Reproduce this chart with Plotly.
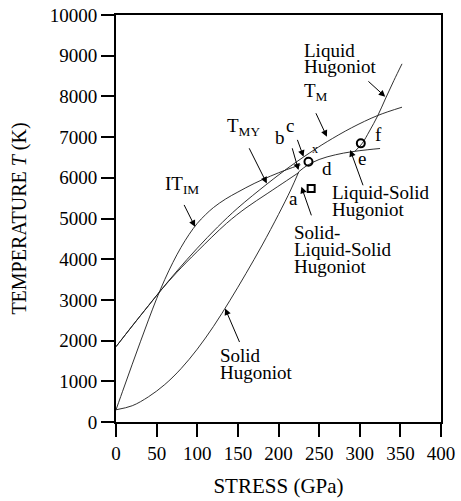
import plotly.graph_objects as go

# ---------------- data (stress in GPa, temperature in K) ----------------
it_im_x = [0, 10, 20, 30, 40, 50, 60, 70, 80, 90, 100, 110, 120, 135, 150, 170, 190, 210, 227]
it_im_T = [300, 860, 1420, 1970, 2510, 3030, 3500, 3920, 4290, 4610, 4880, 5090, 5270, 5480, 5650,
           5860, 6040, 6200, 6320]

tm_x = [0, 20, 40, 55, 75, 100, 125, 150, 186, 215, 245, 260, 290, 322, 352]
tm_T = [1850, 2360, 2860, 3230, 3710, 4270, 4790, 5260, 5850, 6290, 6700, 6890, 7230, 7530, 7735]

tmy_x = [0, 20, 40, 55, 75, 100, 136, 160, 186, 210, 225]
tmy_T = [1850, 2360, 2860, 3230, 3680, 4190, 4880, 5260, 5610, 5930, 6130]

solid_hug_x = [0, 20, 40, 60, 80, 100, 120, 140, 160, 180, 200, 215, 225]
solid_hug_T = [300, 400, 620, 920, 1310, 1790, 2350, 2980, 3650, 4350, 5100, 5700, 6150]

mixed_hug_x = [225, 235, 250, 270, 290, 310, 325]
mixed_hug_T = [6150, 6300, 6450, 6565, 6640, 6690, 6720]

liquid_hug_x = [294, 303, 312, 322, 332, 342, 352]
liquid_hug_T = [6650, 6846, 7150, 7520, 7960, 8390, 8800]

circle_x = [236.9, 301.3]
circle_T = [6393, 6846]
square_x = [240.2]
square_T = [5735]

x_ticks = [0, 50, 100, 150, 200, 250, 300, 350, 400]
y_ticks = [0, 1000, 2000, 3000, 4000, 5000, 6000, 7000, 8000, 9000, 10000]

FONT = "Liberation Serif, Times New Roman, serif"
LINE = dict(color="#1a1a1a", width=0.9)

fig = go.Figure()
for xs, ys in [(it_im_x, it_im_T), (tm_x, tm_T), (tmy_x, tmy_T),
               (solid_hug_x, solid_hug_T), (mixed_hug_x, mixed_hug_T),
               (liquid_hug_x, liquid_hug_T)]:
    fig.add_trace(go.Scatter(x=xs, y=ys, mode="lines", line=dict(shape="spline", smoothing=1.0, **LINE),
                             hoverinfo="skip", showlegend=False))

fig.add_trace(go.Scatter(x=circle_x, y=circle_T, mode="markers",
                         marker=dict(symbol="circle-open", size=8, color="black", line=dict(width=2)),
                         showlegend=False))
fig.add_trace(go.Scatter(x=square_x, y=square_T, mode="markers",
                         marker=dict(symbol="square-open", size=7, color="black", line=dict(width=2)),
                         showlegend=False))

# ---------------- labels ----------------
labels = [
    ("Liquid", 229.1, 9140, "left"),
    ("Hugoniot", 229.1, 8740, "left"),
    ("T<sub>M</sub>", 228.8, 8100, "left"),
    ("T<sub>MY</sub>", 134.3, 7260, "left"),
    ("IT<sub>IM</sub>", 58.3, 5830, "left"),
    ("b", 202, 6980, "center"),
    ("c", 214.4, 7280, "center"),
    ("d", 259.6, 6240, "center"),
    ("e", 302.7, 6470, "center"),
    ("f", 323.1, 7070, "center"),
    ("a", 218.4, 5480, "center"),
    ("Liquid-Solid", 263.6, 5650, "left"),
    ("Hugoniot", 263.6, 5210, "left"),
    ("Solid-", 216.4, 4650, "left"),
    ("Liquid-Solid", 216.4, 4230, "left"),
    ("Hugoniot", 216.4, 3810, "left"),
    ("Solid", 126, 1630, "left"),
    ("Hugoniot", 126, 1210, "left"),
]
for txt, x, y, anc in labels:
    fig.add_annotation(x=x, y=y, text=txt, showarrow=False, xanchor=anc, yanchor="middle",
                       font=dict(family=FONT, size=19, color="black"))

fig.add_annotation(x=245.2, y=6720, text="x", showarrow=False,
                   font=dict(family=FONT, size=12, color="black"))

# ---------------- pointer arrows (tail -> tip) ----------------
arrows = [
    (308.8, 8403, 331.4, 7992),
    (245.2, 7623, 259.6, 7008),
    (163.0, 6762, 185.6, 5862),
    (82.9, 5370, 97.3, 4795),
    (216.4, 6762, 224.6, 6189),
    (222.6, 6969, 230.8, 6517),
    (304.7, 5779, 288.3, 6681),
    (241.1, 5041, 228.2, 5779),
    (152.8, 1928, 134.3, 2788),
]
for ax, ay, x, y in arrows:
    fig.add_annotation(x=x, y=y, ax=ax, ay=ay, xref="x", yref="y", axref="x", ayref="y",
                       text="", showarrow=True, arrowhead=2, arrowsize=1.3, arrowwidth=1,
                       arrowcolor="black")

axis_common = dict(showline=True, linecolor="black", linewidth=2, mirror=True,
                   ticks="outside", ticklen=13, tickwidth=1.5, tickcolor="black",
                   showgrid=False, zeroline=False, automargin=False,
                   tickfont=dict(family=FONT, size=19, color="black"))

fig.update_layout(
    width=461, height=501,
    margin=dict(l=116, r=20, t=15, b=79),
    paper_bgcolor="white", plot_bgcolor="white",
    xaxis=dict(range=[0, 400], tickvals=x_ticks, ticktext=[str(v) for v in x_ticks],
               title=dict(text="STRESS (GPa)", font=dict(family=FONT, size=21, color="black"), standoff=16),
               **axis_common),
    yaxis=dict(range=[0, 10000], tickvals=y_ticks, ticktext=[str(v) for v in y_ticks],
               title=dict(text="TEMPERATURE <i>T</i> (K)", font=dict(family=FONT, size=20, color="black"),
                          standoff=18),
               **axis_common),
)

fig.write_html("out.html")
